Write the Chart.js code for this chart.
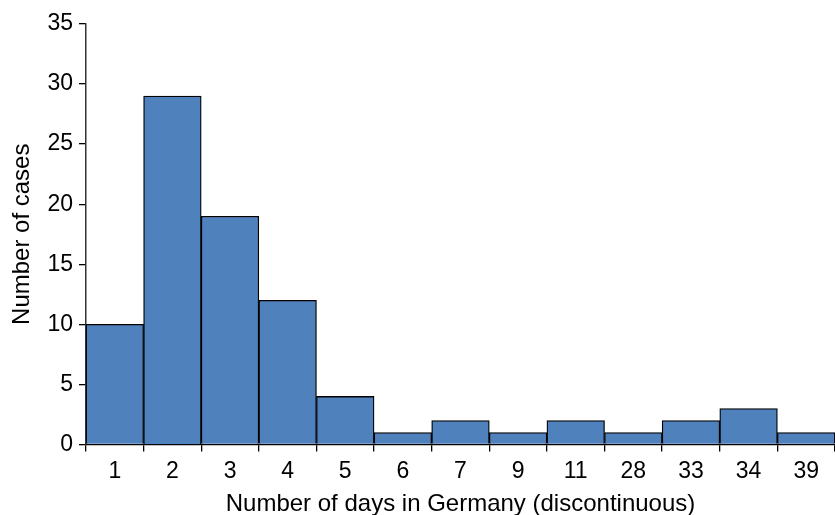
<!DOCTYPE html>
<html>
<head>
<meta charset="utf-8">
<script src="https://cdn.jsdelivr.net/npm/chart.js@4.4.0/dist/chart.umd.min.js"></script>
<style>
  html, body { margin: 0; padding: 0; background: #fff; }
  #wrap { width: 835px; height: 515px; }
</style>
</head>
<body>
<div id="wrap"><canvas id="chart"></canvas></div>
<script>
// days in Germany (discontinuous categories) and number of cases
const days = ['1', '2', '3', '4', '5', '6', '7', '9', '11', '28', '33', '34', '39'];
const cases = [10, 29, 19, 12, 4, 1, 2, 1, 2, 1, 2, 3, 1];
const yTicks = [0, 5, 10, 15, 20, 25, 30, 35];

const family = "'Liberation Sans', Arial, Helvetica, sans-serif";
const tickFont = { family: family, size: 23, lineHeight: 1 };
const titleFont = { family: family, size: 24, lineHeight: 1 };

const ctx = document.getElementById('chart').getContext('2d');
new Chart(ctx, {
  type: 'bar',
  data: {
    labels: days,
    datasets: [{
      data: cases,
      backgroundColor: '#4f81bd',
      borderColor: '#000',
      borderWidth: 1.3,
      barPercentage: 1,
      categoryPercentage: 1
    }]
  },
  options: {
    responsive: true,
    maintainAspectRatio: false,
    animation: false,
    layout: { padding: { top: 24, right: 0, bottom: 0, left: 0 } },
    plugins: {
      legend: { display: false },
      tooltip: { enabled: false }
    },
    scales: {
      x: {
        grid: { display: true, drawOnChartArea: false, offset: true, tickLength: 7, color: '#000', lineWidth: 1.3 },
        border: { display: true, color: '#000', width: 1.3 },
        ticks: { color: '#000', font: tickFont, padding: 9, maxRotation: 0 },
        title: {
          display: true,
          text: 'Number of days in Germany (discontinuous)',
          color: '#000',
          font: titleFont,
          padding: { top: 0, bottom: -1.5 }
        }
      },
      y: {
        min: 0,
        max: 35,
        afterBuildTicks: (axis) => { axis.ticks = yTicks.map(v => ({ value: v })); },
        grid: { display: true, drawOnChartArea: false, tickLength: 7, color: '#000', lineWidth: 1.3 },
        border: { display: true, color: '#333', width: 1.5 },
        ticks: { color: '#000', font: tickFont, padding: 6 },
        title: {
          display: true,
          text: 'Number of cases',
          color: '#000',
          font: titleFont,
          padding: { top: 10, bottom: 7.4 }
        }
      }
    }
  }
});
</script>
</body>
</html>
